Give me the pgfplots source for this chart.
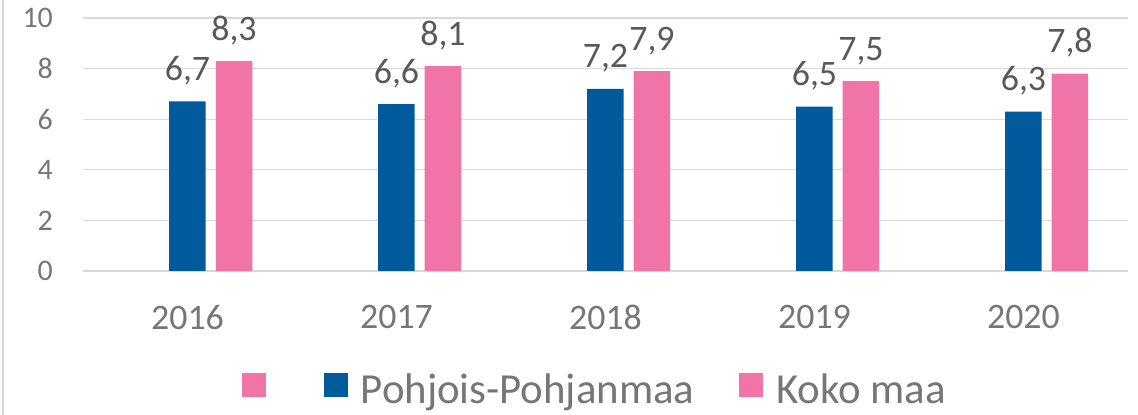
\documentclass[border=0pt]{standalone}
\usepackage{pgfplots}
\pgfplotsset{compat=1.18}
\usepackage{fontspec}
\setmainfont{Carlito}
\definecolor{ppblue}{HTML}{005A9C}
\definecolor{kmpink}{HTML}{F174A8}
\definecolor{gridgray}{HTML}{D9D9D9}
\definecolor{labgray}{HTML}{595959}
\definecolor{axgray}{HTML}{767676}
\pgfplotsset{
  sqlegend/.style={legend image code/.code={
    \fill[##1] (0bp,-7bp) rectangle (24bp,17bp);
    \path (31bp,25bp);}},
}
\begin{document}
\begin{tikzpicture}
\useasboundingbox (0bp,0bp) rectangle (1138bp,415bp);
\draw[gridgray, line width=1.5bp] (3bp,0bp) -- (3bp,415bp);
\begin{axis}[
  at={(83bp,144bp)}, anchor=south west,
  scale only axis, width=1045bp, height=253bp,
  xmin=-0.5, xmax=4.5, ymin=0, ymax=10,
  xtick={0,1,2,3,4}, xticklabels={2016,2017,2018,2019,2020},
  ytick={0,2,4,6,8,10},
  ymajorgrids, grid style={gridgray, line width=1.2bp},
  axis line style={draw=none}, major tick length=0pt,
  /pgf/number format/assume math mode=true,
  yticklabel style={font=\fontsize{30}{30}\selectfont, text=axgray,
    anchor=east, inner sep=0pt, xshift=-30bp},
  xticklabel style={font=\fontsize{36}{36}\selectfont, text=axgray,
    anchor=north, inner sep=0pt, yshift=-34bp},
  nodes near coords={\pgfmathprintnumber[fixed,precision=1,fixed zerofill,use comma,assume math mode=true]{\pgfplotspointmeta}},
  every node near coord/.append style={font=\fontsize{36}{36}\selectfont,
    text=labgray, anchor=base, inner sep=0pt, yshift=21bp},
  legend columns=3,
  legend style={draw=none, fill=none, at={(0.1493,-0.4506)}, anchor=west,
    font=\fontsize{43}{43}\selectfont, text=axgray,
    nodes={inner xsep=6bp, inner ysep=0pt},
    /tikz/every even column/.append style={column sep=38.5bp}},
]
\addlegendimage{sqlegend, fill=kmpink, draw=none}
\addlegendentry{}
% Pohjois-Pohjanmaa
\addplot[ybar, bar width=36.5bp, fill=ppblue, draw=none, sqlegend] coordinates {
  (0,6.7) (1,6.6) (2,7.2) (3,6.5) (4,6.3)
};
\addlegendentry{Pohjois-Pohjanmaa}
% Koko maa (offset by one bar slot)
\addplot[ybar, bar width=36.5bp, fill=kmpink, draw=none, sqlegend] coordinates {
  (0.2225,8.3) (1.2225,8.1) (2.2225,7.9) (3.2225,7.5) (4.2225,7.8)
};
\addlegendentry{Koko maa}
\end{axis}
\end{tikzpicture}
\end{document}
